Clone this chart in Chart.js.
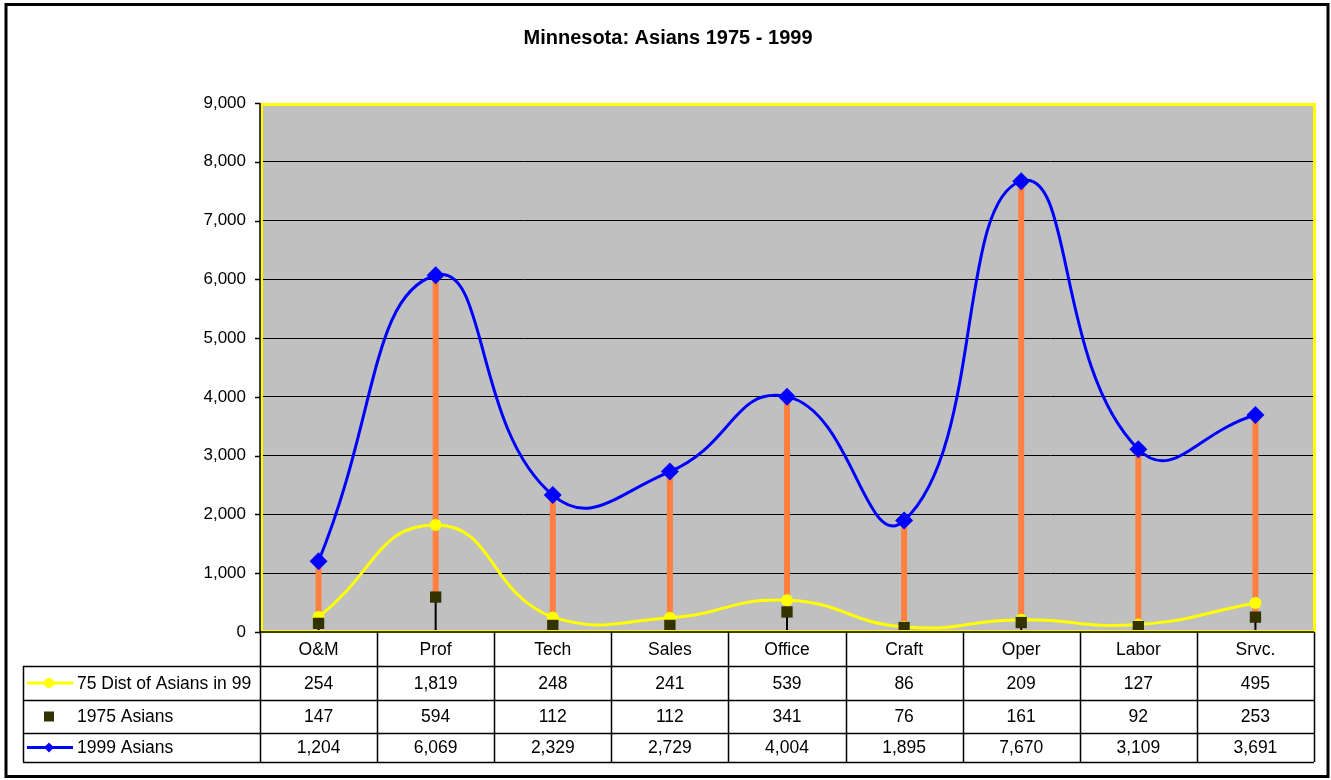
<!DOCTYPE html>
<html lang="en">
<head>
    <meta charset="UTF-8">
    <title>Minnesota: Asians 1975 - 1999</title>
    <script src="https://cdn.jsdelivr.net/npm/chart.js"></script>
    <style>
        body { margin: 0; background: #fff; }
        #wrap { width: 1331px; height: 780px; }
    </style>
</head>
<body>
    <div id="wrap"><canvas id="chart" width="1331" height="780"></canvas></div>

    <script>
        const chartTitle = 'Minnesota: Asians 1975 - 1999';
        const categories = ['O&M', 'Prof', 'Tech', 'Sales', 'Office', 'Craft', 'Oper', 'Labor', 'Srvc.'];
        const dist75 = [254, 1819, 248, 241, 539, 86, 209, 127, 495];
        const asians1975 = [147, 594, 112, 112, 341, 76, 161, 92, 253];
        const asians1999 = [1204, 6069, 2329, 2729, 4004, 1895, 7670, 3109, 3691];
        const seriesNames = ['75 Dist of Asians in 99', '1975 Asians', '1999 Asians'];

        const FONT = '"Liberation Sans", Arial, sans-serif';
        const fmt = v => v.toLocaleString('en-US');

        // frame, title, plot background
        const backdrop = {
            id: 'backdrop',
            beforeDraw(chart) {
                const { ctx, chartArea: a } = chart;
                ctx.save();
                ctx.fillStyle = '#fff';
                ctx.fillRect(0, 0, chart.width, chart.height);
                ctx.strokeStyle = '#000';
                ctx.lineWidth = 3;
                ctx.strokeRect(6, 4.5, 1322, 772);
                ctx.fillStyle = '#c0c0c0';
                ctx.fillRect(a.left, a.top, a.right - a.left, a.bottom - a.top);
                ctx.fillStyle = '#000';
                ctx.font = 'bold 20px ' + FONT;
                ctx.textAlign = 'center';
                ctx.textBaseline = 'middle';
                ctx.fillText(chartTitle, 668, 38);
                ctx.restore();
            }
        };

        // high-low lines and drop lines, under the series
        const hiLow = {
            id: 'hiLow',
            beforeDatasetsDraw(chart) {
                const { ctx, scales: { x, y } } = chart;
                ctx.save();
                categories.forEach((c, i) => {
                    const vals = [dist75[i], asians1975[i], asians1999[i]];
                    const hi = Math.max(...vals), lo = Math.min(...vals);
                    const px = x.getPixelForValue(i);
                    ctx.strokeStyle = '#000';
                    ctx.lineWidth = 2;
                    ctx.beginPath();
                    ctx.moveTo(px, y.getPixelForValue(lo));
                    ctx.lineTo(px, y.getPixelForValue(0));
                    ctx.stroke();
                    ctx.strokeStyle = '#ff8040';
                    ctx.lineWidth = 6;
                    ctx.beginPath();
                    ctx.moveTo(px, y.getPixelForValue(hi));
                    ctx.lineTo(px, y.getPixelForValue(lo));
                    ctx.stroke();
                });
                ctx.restore();
            }
        };

        // plot border, axes and the data table
        const dataTable = {
            id: 'dataTable',
            afterDraw(chart) {
                const { ctx, chartArea: a, scales: { x, y } } = chart;
                const colW = (a.right - a.left) / categories.length;
                const tLeft = 23;
                const rows = [632, 666, 700, 733, 762];
                ctx.save();
                ctx.strokeStyle = '#ffff00';
                ctx.lineWidth = 3;
                ctx.strokeRect(a.left + 1.5, a.top + 1.5, a.right - a.left - 1, a.bottom - a.top - 2);
                ctx.strokeStyle = '#000';
                ctx.lineWidth = 1.5;
                ctx.beginPath();
                ctx.moveTo(a.left, a.top);
                ctx.lineTo(a.left, a.bottom);
                ctx.stroke();
                [0, 1000, 2000, 3000, 4000, 5000, 6000, 7000, 8000, 9000].forEach(v => {
                    const py = Math.round(y.getPixelForValue(v)) + 0.5;
                    ctx.beginPath();
                    ctx.moveTo(a.left - 5, py);
                    ctx.lineTo(a.left, py);
                    ctx.stroke();
                });

                ctx.lineWidth = 1.5;
                ctx.beginPath();
                ctx.moveTo(a.left, a.bottom);
                ctx.lineTo(a.right, a.bottom);
                for (let i = 0; i <= categories.length; i++) {
                    const px = Math.round(a.left + i * colW) + 0.5;
                    ctx.moveTo(px, rows[0]);
                    ctx.lineTo(px, rows[4]);
                }
                for (let r = 1; r < rows.length; r++) {
                    ctx.moveTo(tLeft, rows[r] + 0.5);
                    ctx.lineTo(a.right, rows[r] + 0.5);
                }
                ctx.moveTo(tLeft + 0.5, rows[1]);
                ctx.lineTo(tLeft + 0.5, rows[4]);
                ctx.stroke();

                ctx.fillStyle = '#000';
                ctx.font = '17.5px ' + FONT;
                ctx.textAlign = 'center';
                ctx.textBaseline = 'middle';
                categories.forEach((c, i) => {
                    const cx = a.left + (i + 0.5) * colW;
                    ctx.fillText(c, cx, (rows[0] + rows[1]) / 2 + 1);
                    ctx.fillText(fmt(dist75[i]), cx, (rows[1] + rows[2]) / 2 + 1);
                    ctx.fillText(fmt(asians1975[i]), cx, (rows[2] + rows[3]) / 2 + 1);
                    ctx.fillText(fmt(asians1999[i]), cx, (rows[3] + rows[4]) / 2 + 1);
                });

                // legend keys
                ctx.textAlign = 'left';
                seriesNames.forEach((name, r) => {
                    const cy = (rows[r + 1] + rows[r + 2]) / 2;
                    ctx.fillStyle = '#000';
                    ctx.fillText(name, 77, cy + 1);
                    if (r === 0) {
                        ctx.strokeStyle = '#ffff00';
                        ctx.lineWidth = 3;
                        ctx.beginPath(); ctx.moveTo(27, cy); ctx.lineTo(73, cy); ctx.stroke();
                        ctx.fillStyle = '#ffff00';
                        ctx.beginPath(); ctx.arc(49, cy, 5, 0, Math.PI * 2); ctx.fill();
                    } else if (r === 1) {
                        ctx.fillStyle = '#333300';
                        ctx.fillRect(44, cy - 5, 10, 10);
                    } else {
                        ctx.strokeStyle = '#0000ff';
                        ctx.lineWidth = 3;
                        ctx.beginPath(); ctx.moveTo(27, cy); ctx.lineTo(73, cy); ctx.stroke();
                        ctx.fillStyle = '#0000ff';
                        ctx.beginPath();
                        ctx.moveTo(49, cy - 5); ctx.lineTo(54, cy); ctx.lineTo(49, cy + 5); ctx.lineTo(44, cy);
                        ctx.closePath(); ctx.fill();
                    }
                });
                ctx.restore();
            }
        };

        new Chart(document.getElementById('chart'), {
            type: 'line',
            data: {
                labels: categories,
                datasets: [
                    {
                        label: seriesNames[0],
                        data: dist75,
                        borderColor: '#ffff00',
                        backgroundColor: '#ffff00',
                        borderWidth: 3,
                        tension: 0.5,
                        pointStyle: 'circle',
                        pointRadius: 6,
                        pointBorderWidth: 0,
                        order: 2
                    },
                    {
                        label: seriesNames[1],
                        data: asians1975,
                        showLine: false,
                        backgroundColor: '#333300',
                        borderColor: '#333300',
                        pointStyle: 'rect',
                        pointRadius: 8,
                        pointBorderWidth: 0,
                        order: 1
                    },
                    {
                        label: seriesNames[2],
                        data: asians1999,
                        borderColor: '#0000ff',
                        backgroundColor: '#0000ff',
                        borderWidth: 3,
                        tension: 0.5,
                        pointStyle: 'rectRot',
                        pointRadius: 9,
                        pointBorderWidth: 0,
                        order: 0
                    }
                ]
            },
            options: {
                responsive: false,
                animation: false,
                layout: { padding: { left: 0, top: 103, right: 17, bottom: 148 } },
                plugins: {
                    legend: { display: false },
                    tooltip: { enabled: false }
                },
                scales: {
                    x: {
                        display: false,
                        offset: true
                    },
                    y: {
                        min: 0,
                        max: 9000,
                        afterFit(scale) { scale.width = 260; },
                        border: { display: false },
                        grid: {
                            color: '#000',
                            lineWidth: 1,
                            drawTicks: false
                        },
                        ticks: {
                            stepSize: 1000,
                            padding: 14,
                            color: '#000',
                            font: { family: FONT, size: 17 },
                            callback: v => fmt(v)
                        }
                    }
                }
            },
            plugins: [backdrop, hiLow, dataTable]
        });
    </script>
</body>
</html>
